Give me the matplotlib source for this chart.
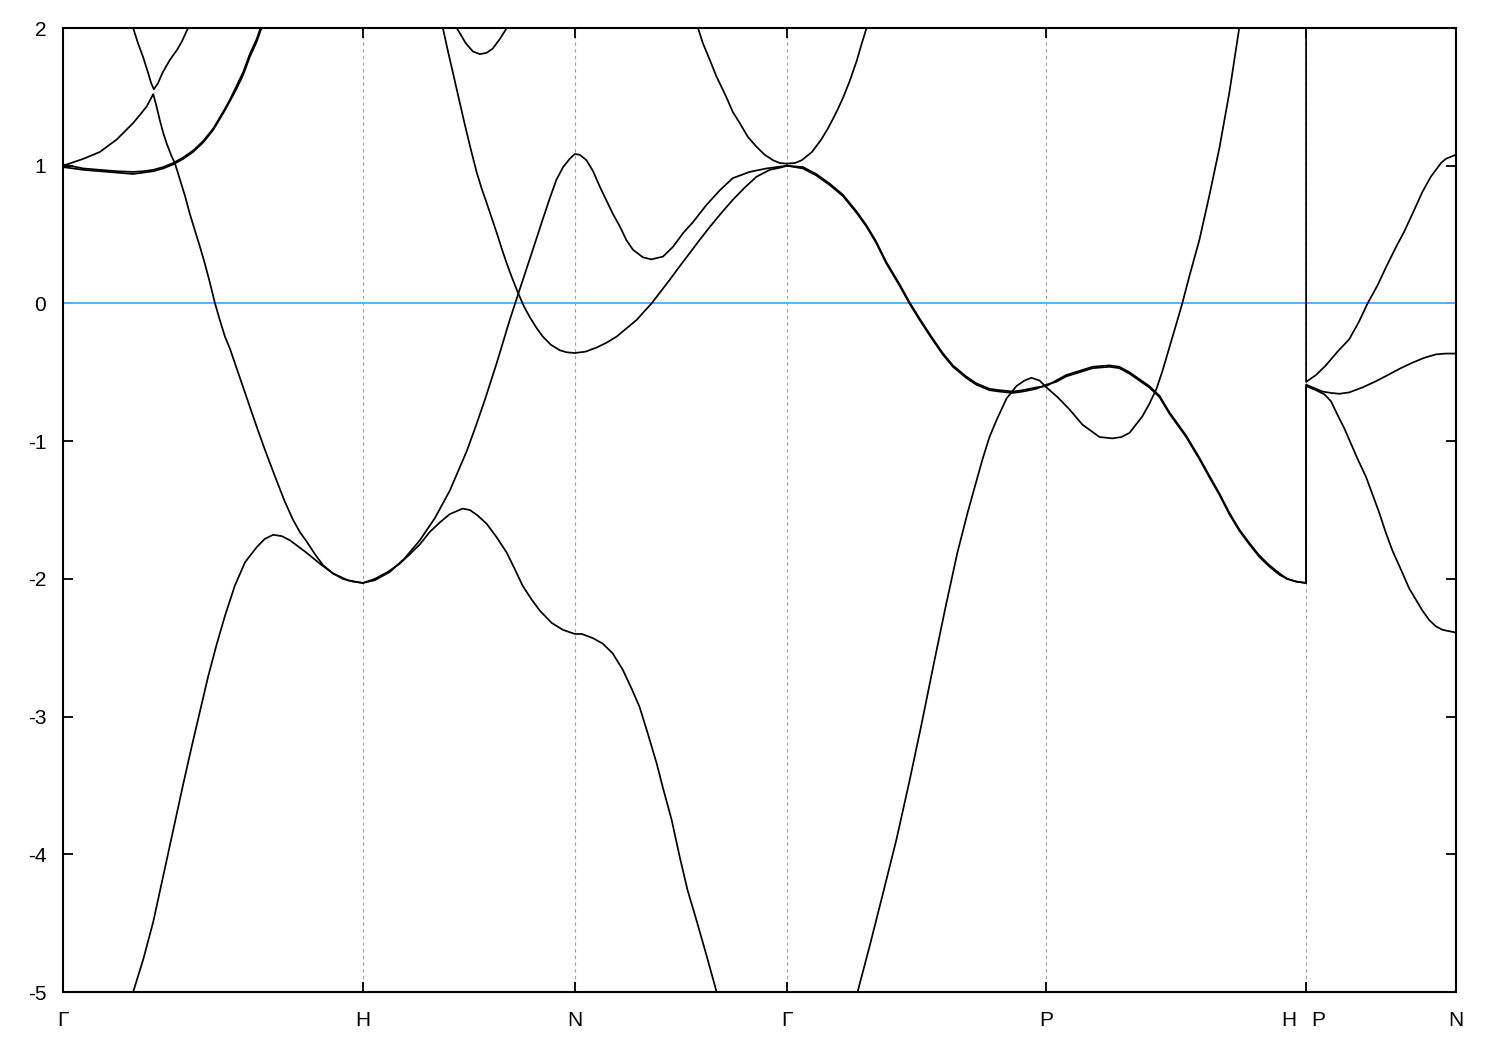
import numpy as np
import matplotlib
matplotlib.use('Agg')
import matplotlib.pyplot as plt

plt.rcParams['font.family'] = ['Liberation Sans', 'DejaVu Sans']
plt.rcParams['axes.unicode_minus'] = False

# high-symmetry points along the path (k in units of 2pi/a)
kpt_pos = [0.0, 1.0, 1.707, 2.414, 3.280, 4.146, 4.646]
kpt_labels = ['Γ', 'H', 'N', 'Γ', 'P', '', 'N']
e_fermi = 0.0

# s-like band: Γ-H-N-Γ-P-H (goes to P-N upper branch after the jump)
s_k = [0.000, 0.234, 0.268, 0.301, 0.334, 0.368, 0.401, 0.429, 0.457, 0.484,
       0.512, 0.540, 0.573, 0.607, 0.646, 0.673, 0.701, 0.730, 0.757, 0.812,
       0.857, 0.900, 0.950, 1.000, 1.040, 1.083, 1.123, 1.157, 1.190, 1.223,
       1.257, 1.290, 1.333, 1.357, 1.383, 1.413, 1.447, 1.480, 1.507, 1.533,
       1.563, 1.590, 1.630, 1.667, 1.707, 1.730, 1.767, 1.800, 1.833, 1.867,
       1.897, 1.923, 1.950, 1.980, 2.000, 2.030, 2.057, 2.083, 2.113, 2.147,
       2.180, 2.414, 2.650, 2.690, 2.733, 2.780, 2.823, 2.863, 2.903, 2.943,
       2.983, 3.017, 3.040, 3.067, 3.090, 3.113, 3.147, 3.180, 3.207, 3.230,
       3.257, 3.280, 3.317, 3.357, 3.400, 3.457, 3.500, 3.530, 3.557, 3.600,
       3.623, 3.647, 3.667, 3.690, 3.713, 3.733, 3.757, 3.790, 3.823, 3.857,
       3.890, 3.923, 4.146]
s_e = [-8.20, -5.00, -4.76, -4.49, -4.16, -3.82, -3.49, -3.22, -2.96, -2.71,
       -2.48, -2.27, -2.05, -1.88, -1.77, -1.71, -1.68, -1.69, -1.72, -1.81,
       -1.89, -1.96, -2.01, -2.03, -2.00, -1.95, -1.89, -1.82, -1.75, -1.66,
       -1.59, -1.53, -1.49, -1.50, -1.54, -1.60, -1.70, -1.81, -1.93, -2.05,
       -2.15, -2.23, -2.32, -2.37, -2.40, -2.40, -2.43, -2.47, -2.54, -2.66,
       -2.80, -2.93, -3.12, -3.34, -3.51, -3.75, -4.02, -4.26, -4.48, -4.74,
       -5.00, -8.20, -5.00, -4.67, -4.30, -3.89, -3.47, -3.06, -2.63, -2.21,
       -1.81, -1.52, -1.34, -1.13, -0.97, -0.85, -0.69, -0.60, -0.56, -0.54,
       -0.56, -0.61, -0.68, -0.77, -0.88, -0.97, -0.98, -0.97, -0.94, -0.82,
       -0.73, -0.62, -0.49, -0.32, -0.15, 0.00, 0.20, 0.46, 0.78, 1.13,
       1.53, 2.00, 4.50]

# Γ-H bands
b1_k = [0.000, 0.068, 0.123, 0.179, 0.234, 0.257, 0.279, 0.301, 0.312, 0.323,
        0.334, 0.346, 0.362, 0.373, 0.390, 0.407, 0.423, 0.440, 0.457, 0.473,
        0.490, 0.507, 0.523, 0.540, 0.557, 0.590, 0.623, 0.650, 0.673, 0.713,
        0.740, 0.767, 0.790, 0.813, 0.840, 0.867, 0.900, 0.933, 0.967, 1.000]
b1_e = [1.00, 1.05, 1.10, 1.19, 1.31, 1.37, 1.43, 1.52, 1.43, 1.33,
        1.24, 1.16, 1.07, 1.02, 0.90, 0.78, 0.65, 0.53, 0.41, 0.29,
        0.15, 0.00, -0.12, -0.24, -0.33, -0.54, -0.75, -0.92, -1.06, -1.29,
        -1.44, -1.57, -1.66, -1.73, -1.82, -1.90, -1.96, -2.00, -2.02, -2.03]
b2_k = [0.234, 0.250, 0.267, 0.283, 0.294, 0.303, 0.317, 0.333, 0.357, 0.380, 0.396, 0.417]
b2_e = [2.00, 1.89, 1.79, 1.68, 1.60, 1.555, 1.60, 1.68, 1.77, 1.84, 1.90, 2.00]
c_k = [0.000, 0.068, 0.123, 0.179, 0.234, 0.268, 0.301, 0.334, 0.368, 0.401,
       0.434, 0.468, 0.501, 0.534, 0.557, 0.579, 0.601, 0.623, 0.646, 0.662]
c1_e = [0.99, 0.97, 0.96, 0.95, 0.94, 0.95, 0.96, 0.98, 1.01, 1.05,
        1.10, 1.17, 1.26, 1.38, 1.47, 1.56, 1.66, 1.79, 1.90, 2.00]
c2_e = [1.01, 0.98, 0.97, 0.96, 0.955, 0.96, 0.97, 0.99, 1.02, 1.06,
        1.11, 1.18, 1.27, 1.39, 1.48, 1.58, 1.68, 1.81, 1.92, 2.02]

# H-N-Γ bands
d_k = [1.000, 1.040, 1.090, 1.140, 1.190, 1.240, 1.290, 1.347, 1.377, 1.407,
       1.447, 1.490, 1.523, 1.567, 1.600, 1.623, 1.646, 1.668, 1.690, 1.707,
       1.723, 1.746, 1.768, 1.790, 1.812, 1.834, 1.857, 1.879, 1.901, 1.934,
       1.962, 2.001, 2.034, 2.068, 2.101, 2.146, 2.190, 2.234, 2.290, 2.346,
       2.414]
d_e = [-2.03, -2.01, -1.95, -1.85, -1.72, -1.56, -1.36, -1.07, -0.89, -0.70,
       -0.43, -0.12, 0.10, 0.39, 0.61, 0.76, 0.90, 0.99, 1.05, 1.085,
       1.08, 1.04, 0.96, 0.85, 0.75, 0.65, 0.56, 0.46, 0.39, 0.335,
       0.32, 0.34, 0.41, 0.51, 0.59, 0.715, 0.82, 0.91, 0.955, 0.98,
       1.00]
e_k = [1.267, 1.283, 1.300, 1.320, 1.340, 1.360, 1.380, 1.397, 1.413, 1.430,
       1.447, 1.463, 1.480, 1.497, 1.517, 1.537, 1.557, 1.580, 1.600, 1.627,
       1.657, 1.680, 1.707, 1.743, 1.780, 1.813, 1.847, 1.880, 1.913, 1.940,
       1.963, 1.993, 2.023, 2.057, 2.090, 2.123, 2.157, 2.197, 2.233, 2.273,
       2.313, 2.357, 2.400, 2.414]
e_e = [2.00, 1.84, 1.68, 1.49, 1.30, 1.12, 0.95, 0.83, 0.73, 0.62,
       0.51, 0.40, 0.29, 0.19, 0.08, -0.02, -0.10, -0.18, -0.24, -0.30,
       -0.34, -0.355, -0.36, -0.35, -0.32, -0.285, -0.24, -0.18, -0.12, -0.055,
       0.00, 0.085, 0.17, 0.27, 0.365, 0.46, 0.555, 0.66, 0.75, 0.84,
       0.92, 0.97, 0.99, 1.00]
f_k = [1.313, 1.327, 1.343, 1.367, 1.390, 1.413, 1.433, 1.457, 1.480]
f_e = [2.00, 1.95, 1.89, 1.83, 1.81, 1.82, 1.85, 1.92, 2.00]
g_k = [2.118, 2.134, 2.157, 2.179, 2.212, 2.234, 2.257, 2.284, 2.312, 2.340,
       2.368, 2.390, 2.414, 2.442, 2.464, 2.498, 2.529, 2.551, 2.568, 2.584,
       2.601, 2.623, 2.647, 2.663, 2.680]
g_e = [2.00, 1.89, 1.77, 1.65, 1.50, 1.39, 1.31, 1.21, 1.14, 1.08,
       1.04, 1.02, 1.015, 1.02, 1.04, 1.10, 1.19, 1.27, 1.34, 1.41,
       1.49, 1.61, 1.76, 1.88, 2.00]

# Γ-P-H d bands (nearly degenerate pair)
t_k = [2.414, 2.468, 2.512, 2.557, 2.601, 2.646, 2.679, 2.712, 2.746, 2.790,
       2.823, 2.857, 2.896, 2.934, 2.968, 3.012, 3.046, 3.090, 3.123, 3.168,
       3.201, 3.246, 3.280, 3.312, 3.346, 3.390, 3.434, 3.490, 3.523, 3.557,
       3.590, 3.623, 3.657, 3.690, 3.723, 3.746, 3.790, 3.823, 3.857, 3.890,
       3.923, 3.957, 3.990, 4.023, 4.057, 4.083, 4.113, 4.146]
t1_e = [1.00, 0.98, 0.93, 0.86, 0.78, 0.66, 0.56, 0.44, 0.29, 0.13,
        0.00, -0.12, -0.25, -0.37, -0.46, -0.54, -0.59, -0.63, -0.64, -0.65,
        -0.64, -0.62, -0.59, -0.57, -0.53, -0.50, -0.47, -0.46, -0.47, -0.51,
        -0.56, -0.61, -0.68, -0.80, -0.90, -0.97, -1.13, -1.26, -1.39, -1.53,
        -1.65, -1.75, -1.84, -1.91, -1.97, -2.00, -2.02, -2.03]
t2_e = [1.00, 0.99, 0.94, 0.87, 0.79, 0.67, 0.57, 0.45, 0.30, 0.14,
        0.01, -0.11, -0.24, -0.36, -0.45, -0.53, -0.58, -0.62, -0.63, -0.64,
        -0.63, -0.61, -0.60, -0.56, -0.52, -0.49, -0.46, -0.45, -0.46, -0.50,
        -0.55, -0.60, -0.67, -0.79, -0.89, -0.96, -1.12, -1.25, -1.38, -1.52,
        -1.64, -1.74, -1.83, -1.90, -1.96, -2.00, -2.02, -2.03]

# P-N bands
pn_up_k = [4.146, 4.179, 4.212, 4.251, 4.290, 4.323, 4.351, 4.384, 4.412, 4.446,
           4.473, 4.507, 4.534, 4.562, 4.579, 4.596, 4.612, 4.646]
pn_up_e = [-0.57, -0.52, -0.45, -0.35, -0.26, -0.13, 0.00, 0.13, 0.26, 0.41,
           0.52, 0.68, 0.81, 0.92, 0.97, 1.02, 1.05, 1.08]
pn_mid_k = [4.146, 4.179, 4.201, 4.229, 4.257, 4.290, 4.334, 4.379, 4.423, 4.462,
            4.501, 4.540, 4.579, 4.612, 4.646]
pn_mid_e = [-0.59, -0.62, -0.64, -0.65, -0.656, -0.646, -0.61, -0.565, -0.515, -0.47,
            -0.43, -0.395, -0.37, -0.364, -0.364]
pn_low_k = [4.146, 4.179, 4.207, 4.229, 4.251, 4.273, 4.296, 4.318, 4.346, 4.368,
            4.390, 4.412, 4.434, 4.468, 4.490, 4.512, 4.534, 4.557, 4.579, 4.601,
            4.623, 4.646]
pn_low_e = [-0.60, -0.63, -0.66, -0.71, -0.81, -0.905, -1.02, -1.13, -1.26, -1.39,
            -1.52, -1.665, -1.795, -1.96, -2.07, -2.15, -2.23, -2.30, -2.345, -2.37,
            -2.38, -2.39]

bands = [
    (s_k + pn_up_k, s_e + pn_up_e),
    (b1_k, b1_e), (b2_k, b2_e), (c_k, c1_e), (c_k, c2_e),
    (d_k, d_e), (e_k, e_e), (f_k, f_e), (g_k, g_e),
    (t_k + pn_mid_k, t1_e + pn_mid_e),
    (t_k + pn_low_k, t2_e + pn_low_e),
]

fig = plt.figure(figsize=(15, 10.5), dpi=100)
ax = fig.add_axes([63 / 1500, 58 / 1050, 1393 / 1500, 964 / 1050])

for x in kpt_pos[1:-1]:
    ax.axvline(x, color='#a0a0a0', lw=0.8, dashes=(3, 3), zorder=1)
ax.axhline(e_fermi, color='#56b4e9', lw=1.4, zorder=2)
for k, e in bands:
    ax.plot(k, e, color='black', lw=1.25, zorder=3)

ax.set_xlim(kpt_pos[0], kpt_pos[-1])
ax.set_ylim(-5, 2)
ax.set_yticks(range(-5, 3))
ax.set_xticks(kpt_pos, kpt_labels)
# H|P discontinuity: two labels around the same tick
ax.set_xticks([4.089, 4.188], ['H', 'P'], minor=True)

for side in ax.spines.values():
    side.set_linewidth(1.5)
ax.tick_params(which='major', direction='in', length=7.5, width=1.3,
               top=True, right=True, labelsize=15)
ax.tick_params(which='minor', length=0, top=False, labelsize=15)
ax.tick_params(axis='x', which='both', pad=14)
ax.tick_params(axis='y', pad=12)

fig.savefig('out.png', dpi=100)
